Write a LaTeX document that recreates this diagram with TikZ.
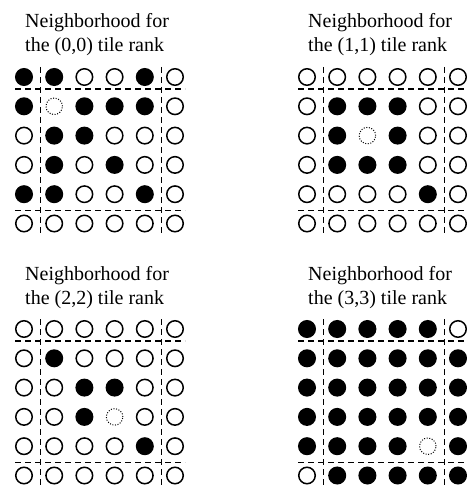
\documentclass[tikz,border=0pt]{standalone}
\usepackage{fontspec}
\setmainfont{Liberation Serif}
\usetikzlibrary{positioning}
\tikzstyle{cell0} = [draw, fill=white, circle, line width=1.5pt, minimum size=16.5pt, inner sep=0pt]
\tikzstyle{cell1} = [cell0, fill=black]
\tikzstyle{cell2} = [cell0, fill=none, line width=1pt, dash pattern=on 1pt off 1.6pt]
\tikzstyle{title} = [anchor=base west, align=left, inner sep=0pt, font=\fontsize{20}{24}\selectfont]
\tikzstyle{tileedge} = [line width=1.4pt, dash pattern=on 6pt off 4pt]

% one 6x6 neighbourhood: name, shift x, shift y, tile, rows (0 empty, 1 neighbour, 2 own rank)
\newcommand{\tilegrid}[5]{%
  \begin{scope}[shift={(#2,#3)}]
    \node [title] (#1-title) at (1,-25) {Neighborhood for\\the #4 tile rank};
    \foreach \row [count=\j from 0] in {#5}
      \foreach \v [count=\i from 0] in \row
        \node [cell\v] (#1-\i-\j) at (\i*30.2,\j*29.3) {};
    % tile border
    \draw [tileedge] (-9,12) -- (161,12);
    \draw [tileedge] (-9,133.5) -- (161,133.5);
    \draw [tileedge] (16.5,-10) -- (16.5,159);
    \draw [tileedge] (137.5,-10) -- (137.5,159);
  \end{scope}}

\begin{document}
\begin{tikzpicture}[x=1pt, y=-1pt]
    \useasboundingbox (0,0) rectangle (466,489);
    % Top row
    \tilegrid{t00}{24}{77}{(0,0)}{{1,1,0,0,1,0},{1,2,1,1,1,0},{0,1,1,0,0,0},{0,1,0,1,0,0},{1,1,0,0,1,0},{0,0,0,0,0,0}}
    \tilegrid{t11}{307}{77}{(1,1)}{{0,0,0,0,0,0},{0,1,1,1,0,0},{0,1,2,1,0,0},{0,1,1,1,0,0},{0,0,0,0,1,0},{0,0,0,0,0,0}}
    % Bottom row
    \tilegrid{t22}{24}{329}{(2,2)}{{0,0,0,0,0,0},{0,1,0,0,0,0},{0,0,1,1,0,0},{0,0,1,2,0,0},{0,0,0,0,1,0},{0,0,0,0,0,0}}
    \tilegrid{t33}{307}{329}{(3,3)}{{1,1,1,1,1,0},{1,1,1,1,1,1},{1,1,1,1,1,1},{1,1,1,1,1,1},{1,1,1,1,2,1},{0,1,1,1,1,1}}
\end{tikzpicture}
\end{document}
